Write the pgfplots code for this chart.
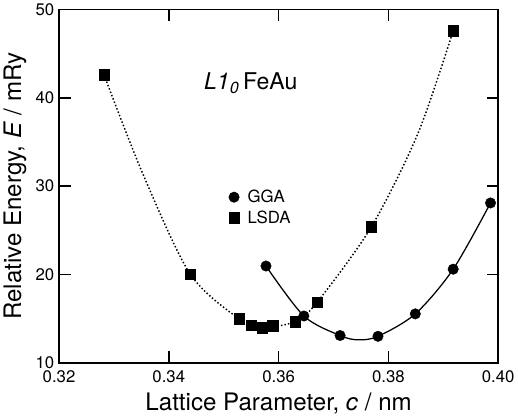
\documentclass[border=0pt]{standalone}
\usepackage{fontspec}
\setmainfont{TeX Gyre Heros}
\usepackage{pgfplots}
\pgfplotsset{compat=1.18}

% markers
\pgfplotstableread{
c      E
0.3577 20.96
0.3646 15.30
0.3712 13.09
0.3781 13.00
0.3849 15.54
0.3918 20.60
0.3986 28.10
}\gga
\pgfplotstableread{
c      E
0.3282 42.60
0.3439 20.05
0.3528 14.98
0.3550 14.24
0.3570 14.00
0.3589 14.20
0.3630 14.67
0.3670 16.85
0.3769 25.40
0.3918 47.60
}\lsda
% fitted curves, points
\pgfplotstableread{
c      E
0.3577 20.96
0.3646 15.30
0.3712 13.09
0.3745 12.60
0.3781 13.00
0.3849 15.54
0.3918 20.60
0.3986 28.10
}\ggafit
\pgfplotstableread{
c      E
0.3282 42.60
0.3354 31.20
0.3439 20.05
0.3528 14.98
0.3570 14.00
0.3630 14.67
0.3670 16.85
0.3769 25.40
0.3854 36.00
0.3918 47.60
}\lsdafit

\begin{document}
\begin{tikzpicture}
\begin{axis}[
    scale only axis,
    width=419pt, height=337pt,
    xmin=0.32, xmax=0.40,
    ymin=10, ymax=50,
    xtick={0.32,0.34,0.36,0.38,0.40},
    xticklabels={0.32,0.34,0.36,0.38,0.40},
    ytick={10,20,30,40,50},
    yticklabels={10,20,30,40,50},
    tick align=inside,
    major tick length=11pt,
    tick style={line width=1.4pt, black},
    axis line style={line width=1.6pt},
    x tick label style={yshift=-4pt, font=\fontsize{16}{19}\selectfont},
    y tick label style={xshift=-1pt, font=\fontsize{16}{19}\selectfont},
    xlabel={Lattice Parameter, \textit{c} / nm},
    ylabel={Relative Energy, \textit{E} / mRy},
    xlabel style={yshift=-3pt, font=\fontsize{23}{27}\selectfont},
    ylabel style={yshift=2pt, font=\fontsize{23}{27}\selectfont},
    legend style={draw=none, fill=none, font=\fontsize{16}{19}\selectfont,
        at={(0.379,0.44)}, anchor=west, row sep=2pt,
        /tikz/every odd column/.append style={column sep=6pt}},
    legend cell align=left,
]
\addplot[no marks, line width=1.2pt, smooth, forget plot] table[x=c,y=E] {\ggafit};
\addplot[no marks, line width=1.4pt, dotted, smooth, forget plot] table[x=c,y=E] {\lsdafit};
\addplot[only marks, mark=*, mark size=5pt, black] table[x=c,y=E] {\gga};
\addlegendentry{GGA}
\addplot[only marks, mark=square*, mark size=5pt, black] table[x=c,y=E] {\lsda};
\addlegendentry{LSDA}
\node[anchor=west, font=\fontsize{22}{26}\selectfont] at (rel axis cs:0.322,0.792)
    {\textit{L1\textsubscript{0}}\,FeAu};
\end{axis}
\end{tikzpicture}
\end{document}
